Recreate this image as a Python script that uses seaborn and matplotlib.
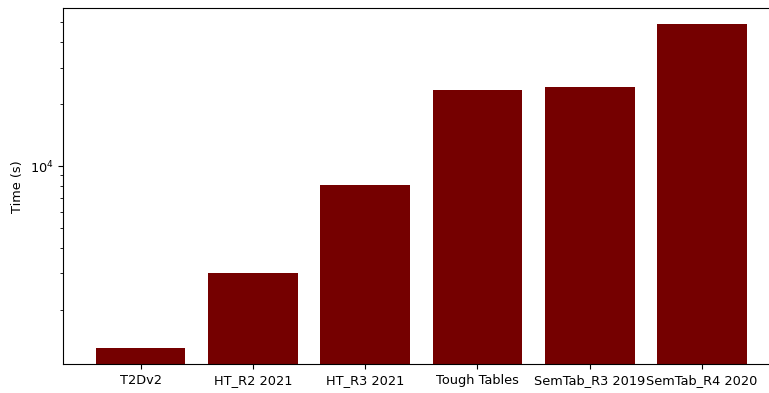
import matplotlib
matplotlib.use("Agg")
import matplotlib.pyplot as plt
import seaborn as sns
import pandas as pd

datasets = ["T2Dv2", "HT_R2 2021", "HT_R3 2021", "Tough Tables",
            "SemTab_R3 2019", "SemTab_R4 2020"]
times_s = [1300, 3010, 8050, 23400, 24300, 48900]

df = pd.DataFrame({"dataset": datasets, "time": times_s})

plt.rcParams["font.size"] = 9.3

fig = plt.figure(figsize=(7.69, 3.93), dpi=100)
ax = fig.add_axes([63 / 769, 1 - 364.3 / 393, (779.6 - 63) / 769, (364.3 - 8.3) / 393])

sns.barplot(data=df, x="dataset", y="time", color="#750000", saturation=1,
            width=0.8, ax=ax)
ax.set_yscale("log")
ax.set_ylim(1084, 58600)
ax.set_xlim(-0.69, 5.69)
ax.set_xlabel("")
ax.set_ylabel("Time (s)")

fig.savefig("out.png", dpi=100)
